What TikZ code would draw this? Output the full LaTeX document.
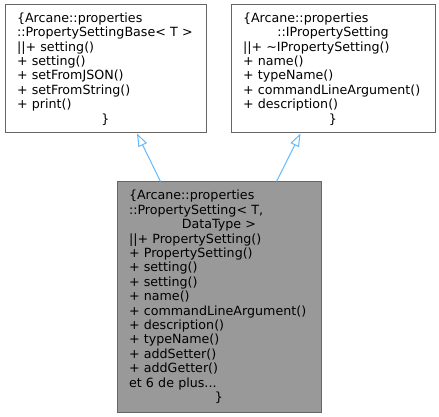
\documentclass[tikz,border=0pt]{standalone}
\usepackage{fontspec}
\setmainfont{DejaVu Sans}
\usetikzlibrary{arrows.meta,calc}
\definecolor{edgeblue}{HTML}{63B8FF}
\definecolor{boxline}{HTML}{666666}
\definecolor{boxgray}{HTML}{999999}
\newcommand{\ctrline}[1]{\makebox[\linewidth]{#1}}
\begin{document}
\begin{tikzpicture}[x=0.75pt,y=-0.75pt,
  classbox/.style={draw=boxline, line width=0.75pt, rectangle, inner xsep=9pt, inner ysep=0pt,
    align=left, font=\fontsize{9.5pt}{10.8pt}\selectfont, anchor=center},
  whitebox/.style={classbox, fill=white},
  graybox/.style={classbox, fill=boxgray},
  inh/.style={draw=edgeblue, line width=0.75pt, -{Triangle[open, length=9.75pt, width=7pt]}}]
\useasboundingbox (0,0) rectangle (439,417);
\node[whitebox, text width=132.75pt, minimum height=96pt] (base) at (105.5,69) {%
{\{}Arcane::properties\\
::PropertySettingBase< T >\\
||+ setting()\\
+ setting()\\
+ setFromJSON()\\
+ setFromString()\\
+ print()\\
\ctrline{\}}};
\node[whitebox, text width=135pt, minimum height=96pt] (iface) at (333,69) {%
{\{}Arcane::properties\\
\ctrline{::IPropertySetting}\\
||+ \textasciitilde IPropertySetting()\\
+ name()\\
+ typeName()\\
+ commandLineArgument()\\
+ description()\\
\ctrline{\}}};
\node[graybox, text width=135pt, minimum height=172.5pt] (impl) at (219,297) {%
{\{}Arcane::properties\\
::PropertySetting< T,\\
\ctrline{DataType >}\\
||+ PropertySetting()\\
+ PropertySetting()\\
+ setting()\\
+ setting()\\
+ name()\\
+ commandLineArgument()\\
+ description()\\
+ typeName()\\
+ addSetter()\\
+ addGetter()\\
et 6 de plus...\\
\ctrline{\}}};
\draw[inh] ($(impl.north west)+(44,0)$) -- ($(base.south west)+(132.5,0)$);
\draw[inh] ($(impl.north west)+(160,0)$) -- ($(iface.south west)+(70,0)$);
\end{tikzpicture}
\end{document}
